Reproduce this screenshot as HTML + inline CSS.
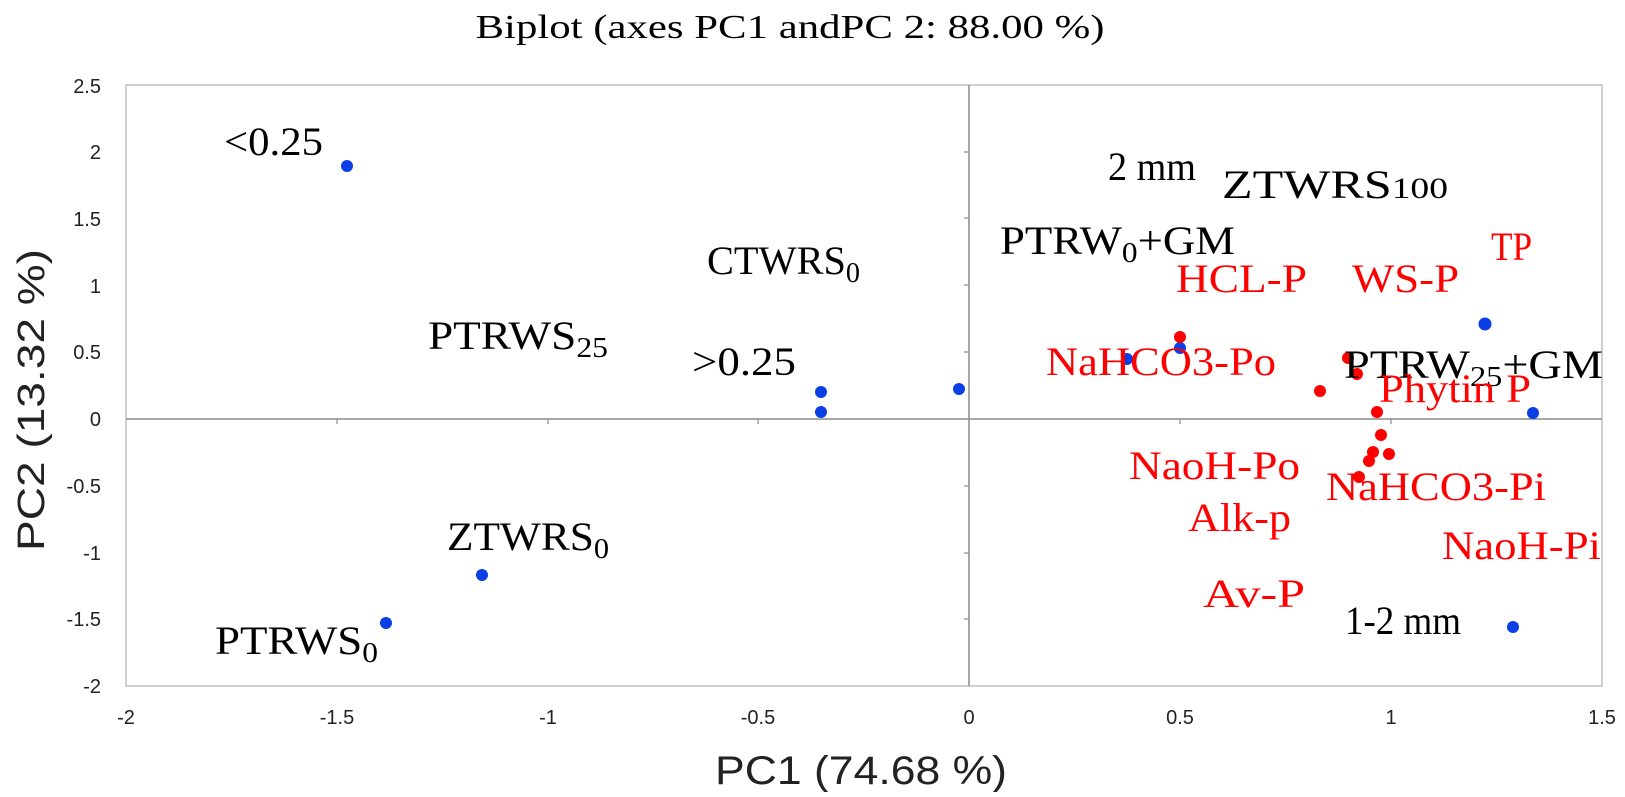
<!DOCTYPE html>
<html><head><meta charset="utf-8"><style>html,body{margin:0;padding:0;background:#fff}</style></head>
<body>
<svg width="1625" height="792" xmlns="http://www.w3.org/2000/svg" font-family="'Liberation Serif', serif">
<text x="790" y="38" font-size="34" text-anchor="middle" textLength="629" lengthAdjust="spacingAndGlyphs">Biplot (axes PC1 andPC 2: 88.00 %)</text>
<rect x="126" y="85" width="1476" height="601" fill="none" stroke="#bfbfbf" stroke-width="1.5"/>
<line x1="126" y1="419" x2="1602" y2="419" stroke="#8c8c8c" stroke-width="1.5"/>
<line x1="969" y1="85" x2="969" y2="686" stroke="#8c8c8c" stroke-width="1.5"/>
<g stroke="#8c8c8c" stroke-width="1.2">
<line x1="964" x2="969" y1="152" y2="152"/><line x1="964" x2="969" y1="218" y2="218"/><line x1="964" x2="969" y1="285" y2="285"/><line x1="964" x2="969" y1="352" y2="352"/><line x1="964" x2="969" y1="486" y2="486"/><line x1="964" x2="969" y1="553" y2="553"/><line x1="964" x2="969" y1="619" y2="619"/>
<line y1="419" y2="424" x1="337" x2="337"/><line y1="419" y2="424" x1="548" x2="548"/><line y1="419" y2="424" x1="758" x2="758"/><line y1="419" y2="424" x1="1180" x2="1180"/><line y1="419" y2="424" x1="1391" x2="1391"/>
</g>
<g font-family="'Liberation Sans', sans-serif" font-size="20" fill="#222" text-anchor="end">
<text x="101" y="93">2.5</text><text x="101" y="159">2</text><text x="101" y="226">1.5</text><text x="101" y="293">1</text><text x="101" y="359">0.5</text><text x="101" y="426">0</text><text x="101" y="493">-0.5</text><text x="101" y="560">-1</text><text x="101" y="626">-1.5</text><text x="101" y="693">-2</text>
</g>
<g font-family="'Liberation Sans', sans-serif" font-size="20" fill="#222" text-anchor="middle">
<text x="126" y="724">-2</text><text x="337" y="724">-1.5</text><text x="548" y="724">-1</text><text x="758" y="724">-0.5</text><text x="969" y="724">0</text><text x="1180" y="724">0.5</text><text x="1391" y="724">1</text><text x="1602" y="724">1.5</text>
</g>
<text x="861" y="784" font-family="'Liberation Sans', sans-serif" font-size="40" text-anchor="middle" fill="#222" textLength="292" lengthAdjust="spacingAndGlyphs">PC1 (74.68 %)</text>
<text transform="translate(44,400) rotate(-90)" font-family="'Liberation Sans', sans-serif" font-size="38" text-anchor="middle" fill="#222" textLength="302" lengthAdjust="spacingAndGlyphs">PC2 (13.32 %)</text>
<g fill="#0a3fe6">
<circle cx="347" cy="166" r="6"/><circle cx="482" cy="575" r="6"/><circle cx="386" cy="623" r="6"/><circle cx="821" cy="392" r="6"/><circle cx="821" cy="412" r="6"/><circle cx="959" cy="389" r="6"/><circle cx="1180" cy="348" r="6"/><circle cx="1127" cy="359" r="6"/><circle cx="1485" cy="324" r="6.5"/><circle cx="1533" cy="413" r="6"/><circle cx="1513" cy="627" r="6"/>
</g>
<g fill="#f00">
<circle cx="1180" cy="337" r="6"/><circle cx="1348" cy="358" r="6"/><circle cx="1357" cy="374" r="6"/><circle cx="1320" cy="391" r="6"/><circle cx="1377" cy="412" r="6"/><circle cx="1381" cy="435" r="6"/><circle cx="1373" cy="452" r="6"/><circle cx="1389" cy="454" r="6"/><circle cx="1369" cy="461" r="6"/><circle cx="1359" cy="477" r="6"/>
</g>
<g font-size="40" fill="#000">
<text x="224" y="155" textLength="99" lengthAdjust="spacingAndGlyphs">&lt;0.25</text>
<text x="1108" y="180" textLength="88" lengthAdjust="spacingAndGlyphs">2 mm</text>
<text x="1222" y="198" textLength="226" lengthAdjust="spacingAndGlyphs">ZTWRS<tspan font-size="30">100</tspan></text>
<text x="707" y="274" textLength="153" lengthAdjust="spacingAndGlyphs">CTWRS<tspan font-size="28" dy="8">0</tspan></text>
<text x="1000" y="254" textLength="235" lengthAdjust="spacingAndGlyphs">PTRW<tspan font-size="28" dy="8">0</tspan><tspan dy="-8">+GM</tspan></text>
<text x="428" y="349" textLength="180" lengthAdjust="spacingAndGlyphs">PTRWS<tspan font-size="28" dy="8">25</tspan></text>
<text x="1344" y="378" textLength="259" lengthAdjust="spacingAndGlyphs">PTRW<tspan font-size="28" dy="8">25</tspan><tspan dy="-8">+GM</tspan></text>
<text x="692" y="375" textLength="104" lengthAdjust="spacingAndGlyphs">&gt;0.25</text>
<text x="447" y="550" textLength="162" lengthAdjust="spacingAndGlyphs">ZTWRS<tspan font-size="28" dy="8">0</tspan></text>
<text x="1345" y="634" textLength="116" lengthAdjust="spacingAndGlyphs">1-2 mm</text>
<text x="215" y="654" textLength="163" lengthAdjust="spacingAndGlyphs">PTRWS<tspan font-size="28" dy="8">0</tspan></text>
</g>
<g font-size="40" fill="#f00">
<text x="1491" y="260" textLength="41" lengthAdjust="spacingAndGlyphs">TP</text>
<text x="1176" y="292" textLength="131" lengthAdjust="spacingAndGlyphs">HCL-P</text>
<text x="1352" y="292" textLength="107" lengthAdjust="spacingAndGlyphs">WS-P</text>
<text x="1046" y="375" textLength="230" lengthAdjust="spacingAndGlyphs">NaHCO3-Po</text>
<text x="1379" y="402" textLength="152" lengthAdjust="spacingAndGlyphs">Phytin P</text>
<text x="1129" y="479" textLength="171" lengthAdjust="spacingAndGlyphs">NaoH-Po</text>
<text x="1326" y="500" textLength="220" lengthAdjust="spacingAndGlyphs">NaHCO3-Pi</text>
<text x="1188" y="531" textLength="103" lengthAdjust="spacingAndGlyphs">Alk-p</text>
<text x="1442" y="559" textLength="159" lengthAdjust="spacingAndGlyphs">NaoH-Pi</text>
<text x="1203" y="607" textLength="102" lengthAdjust="spacingAndGlyphs">Av-P</text>
</g>
</svg>
</body></html>
